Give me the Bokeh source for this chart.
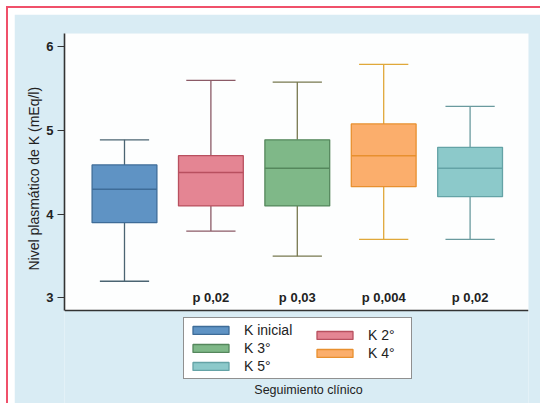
from bokeh.plotting import figure
from bokeh.models import (Legend, LegendItem, Title, Label, Span, BoxAnnotation,
                          ColumnDataSource, Range1d, FixedTicker, Spacer)
from bokeh.layouts import column, row
from bokeh.core.properties import value
from bokeh.embed import file_html
from bokeh.resources import INLINE

# ---- data ----
groups = ["K inicial", "K 2°", "K 3°", "K 4°", "K 5°"]
positions = [1, 2, 3, 4, 5]
whisker_low = [3.2, 3.8, 3.5, 3.7, 3.7]
q1 = [3.9, 4.1, 4.1, 4.33, 4.21]
median = [4.3, 4.5, 4.55, 4.7, 4.55]
q3 = [4.59, 4.7, 4.89, 5.08, 4.8]
whisker_high = [4.89, 5.6, 5.58, 5.79, 5.29]
p_labels = ["", "p 0,02", "p 0,03", "p 0,004", "p 0,02"]
y_ticks = [3, 4, 5, 6]
y_axis_min, y_axis_max = 2.85, 6.16

fill_colors = ["#5f93c4", "#e48593", "#7fb888", "#fbae6c", "#8cc9ca"]
line_colors = ["#3e6c98", "#b8505f", "#55875c", "#e8902f", "#64a3a6"]
whisker_colors = ["#4b6472", "#8b5a66", "#77784f", "#e0a83a", "#6a9a9e"]

FONT = "Liberation Sans"
PANEL = "#d9ecf4"
RED = "#f0506a"

p = figure(width=526, height=389, output_backend="svg", toolbar_location=None,
           x_range=Range1d(0.3056, 5.676), y_range=Range1d(1.7395, y_axis_max),
           min_border_left=50, min_border_top=19, min_border_right=12, min_border_bottom=0)
p.border_fill_color = PANEL
p.background_fill_color = PANEL
p.outline_line_color = None
p.xgrid.visible = False
p.ygrid.visible = False
p.xaxis.visible = False

# white plotting region + baseline
p.add_layout(BoxAnnotation(bottom=y_axis_min, top=y_axis_max, fill_color="#fdfefe",
                           fill_alpha=1.0, line_color=None, level="underlay"))
p.add_layout(Span(location=y_axis_min, dimension="width", line_color="#333333", line_width=1.6))

src = ColumnDataSource(dict(x=positions, lo=whisker_low, q1=q1, med=median, q3=q3, hi=whisker_high,
                            line=line_colors, wc=whisker_colors,
                            cl=[v - 0.285 for v in positions], cr=[v + 0.285 for v in positions],
                            bl=[v - 0.375 for v in positions], br=[v + 0.375 for v in positions]))

# whiskers
p.segment(x0="x", y0="q3", x1="x", y1="hi", source=src, line_color="wc", line_width=1.3)
p.segment(x0="x", y0="lo", x1="x", y1="q1", source=src, line_color="wc", line_width=1.3)
p.segment(x0="cl", y0="hi", x1="cr", y1="hi", source=src, line_color="wc", line_width=1.3)
p.segment(x0="cl", y0="lo", x1="cr", y1="lo", source=src, line_color="wc", line_width=1.3)

items = []
for i in range(5):
    r = p.vbar(x=[positions[i]], width=0.75, bottom=[q1[i]], top=[q3[i]],
               fill_color=fill_colors[i], line_color=line_colors[i], line_width=1.3)
    items.append(LegendItem(label=groups[i], renderers=[r]))

p.segment(x0="bl", y0="med", x1="br", y1="med", source=src, line_color="line", line_width=1.5)

# p-values
p.text(x=positions, y=[3] * 5, text=p_labels, text_align="center", text_baseline="middle",
       text_font=value(FONT), text_font_size="13px", text_font_style="bold", text_color="#222222")

# y axis
p.yaxis.ticker = FixedTicker(ticks=y_ticks)
p.yaxis.bounds = (y_axis_min, y_axis_max)
p.yaxis.minor_tick_line_color = None
p.yaxis.major_tick_out = 7
p.yaxis.major_tick_in = 0
p.yaxis.major_tick_line_color = "#333333"
p.yaxis.axis_line_color = "#333333"
p.yaxis.axis_line_width = 1.6
p.yaxis.major_label_standoff = 4
p.yaxis.major_label_text_font = FONT
p.yaxis.major_label_text_font_size = "13px"
p.yaxis.major_label_text_font_style = "bold"
p.yaxis.major_label_text_color = "#222222"

ytitle = Title(text="Nivel plasmático de K (mEq/l)", align="left", offset=133,
               text_font=FONT, text_font_size="14px", text_font_style="normal",
               text_color="#222222", standoff=4)
p.add_layout(ytitle, "left")

common = dict(glyph_width=45, glyph_height=10, label_height=12, label_standoff=11,
              spacing=2, padding=4, margin=0, orientation="vertical",
              label_text_font=FONT, label_text_font_size="14px", label_text_color="#222222")
legend1 = Legend(items=[items[0], items[2], items[4]], location=(119, 24), label_width=163,
                 border_line_color="#222222", border_line_width=1.5,
                 background_fill_color="white", background_fill_alpha=1.0, **common)
legend2 = Legend(items=[items[1], items[3]], location=(248, 42),
                 border_line_color=None, background_fill_alpha=0.0, **common)
p.add_layout(legend1, "center")
p.add_layout(legend2, "center")

xlabel = Label(x=3.13, y=1.906, text="Seguimiento clínico", text_align="center",
               text_baseline="middle", text_font=FONT, text_font_size="12.5px",
               text_color="#222222")
p.add_layout(xlabel)

# page frame: thin red rule on top and left, white gap, then the light-blue panel
red_top = Spacer(width=534, height=2, styles={"background-color": RED})
red_left = Spacer(width=2, height=395, styles={"background-color": RED})
inner = column(Spacer(width=526, height=6), p, spacing=0)
body = row(red_left, Spacer(width=6, height=395), inner, spacing=0)
framed = column(red_top, body, spacing=0)
layout = column(Spacer(width=534, height=6), row(Spacer(width=6, height=397), framed, spacing=0),
                spacing=0)

open("out.html", "w").write(file_html(layout, INLINE))
